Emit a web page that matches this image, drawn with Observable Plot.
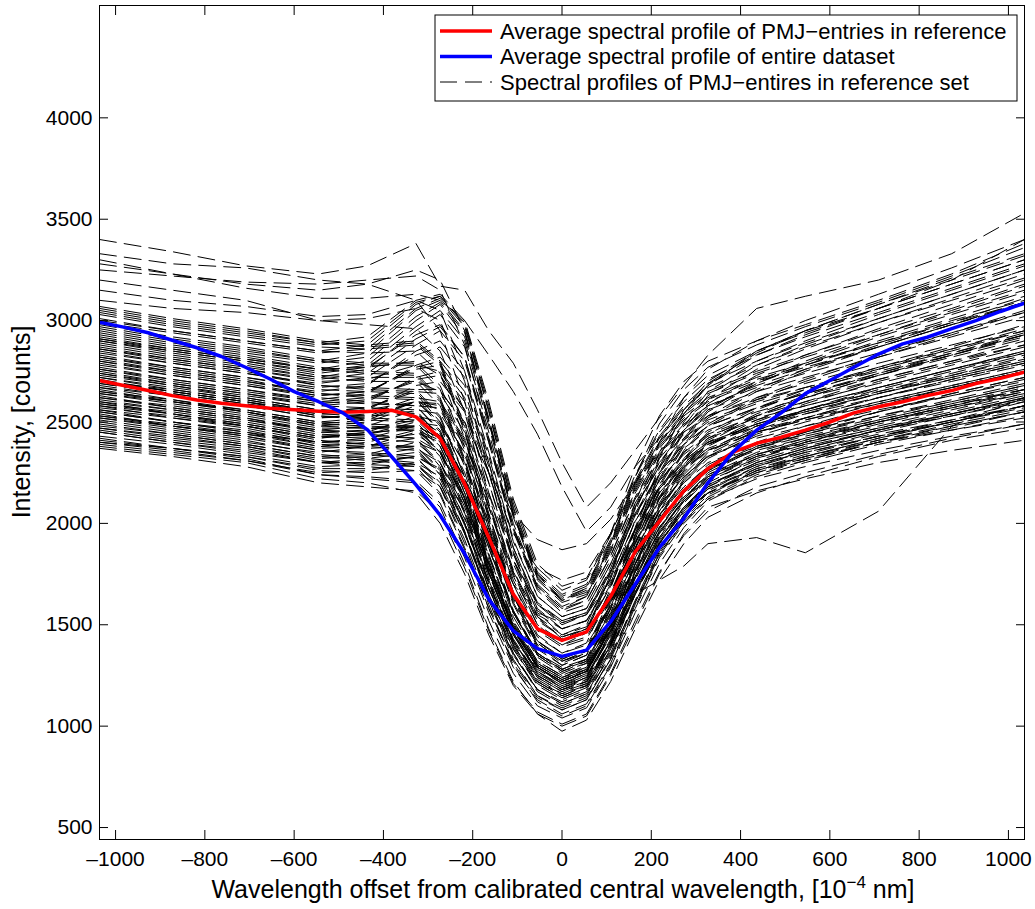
<!DOCTYPE html>
<html><head><meta charset="utf-8">
<script src="https://cdn.jsdelivr.net/npm/d3@7"></script>
<script src="https://cdn.jsdelivr.net/npm/@observablehq/plot@0.6"></script>
<style>body{margin:0;background:#fff;}</style>
</head><body><div id="chart"></div>
<script>
// wavelength grid of the averaged profiles [10^-4 nm]
const gridX = [-1036, -982, -927, -873, -818, -763, -709, -654, -600, -545, -491, -436, -382, -327, -273, -218, -164, -109, -55, 0, 55, 109, 164, 218, 273, 327, 382, 436, 491, 545, 600, 654, 709, 763, 818, 873, 927, 982, 1036];
const avgReference = [2705, 2680, 2655, 2630, 2608, 2592, 2580, 2568, 2560, 2553, 2548, 2552, 2558, 2525, 2420, 2195, 1930, 1650, 1480, 1423, 1465, 1640, 1860, 2010, 2160, 2270, 2350, 2395, 2425, 2460, 2500, 2545, 2575, 2600, 2630, 2655, 2690, 2715, 2746];
const avgDataset = [2992, 2968, 2940, 2903, 2866, 2823, 2770, 2712, 2650, 2600, 2545, 2462, 2330, 2190, 2040, 1850, 1625, 1470, 1382, 1344, 1375, 1515, 1700, 1880, 2025, 2200, 2350, 2460, 2545, 2640, 2705, 2770, 2835, 2885, 2918, 2960, 3000, 3045, 3086];

// wavelength grid of the individual reference-set profiles
const profileX = [-1036, -873, -709, -545, -436, -327, -273, -218, -164, -109, -55, 0, 55, 109, 164, 218, 273, 327, 436, 545, 709, 873, 1036];
const profiles = [
  [2380, 2340, 2300, 2220, 2200, 2150, 2000, 1750, 1450, 1200, 1060, 1000, 1050, 1250, 1500, 1750, 1950, 2080, 2160, 2220, 2300, 2360, 2410],
  [2420, 2370, 2330, 2260, 2250, 2260, 2180, 1950, 1650, 1380, 1200, 1130, 1180, 1380, 1650, 1880, 2050, 2150, 2250, 2310, 2400, 2470, 2550],
  [2450, 2400, 2350, 2300, 2320, 2350, 2250, 2000, 1700, 1420, 1250, 1180, 1220, 1420, 1700, 1920, 2080, 2190, 2290, 2360, 2440, 2510, 2600],
  [2470, 2420, 2380, 2310, 2290, 2280, 2150, 1880, 1580, 1320, 1150, 1090, 1140, 1330, 1600, 1850, 2020, 2140, 2260, 2330, 2420, 2500, 2570],
  [2500, 2450, 2400, 2350, 2380, 2450, 2400, 2150, 1800, 1480, 1290, 1220, 1270, 1480, 1760, 1980, 2130, 2230, 2330, 2390, 2470, 2540, 2620],
  [2520, 2470, 2420, 2360, 2350, 2330, 2200, 1950, 1620, 1350, 1180, 1120, 1170, 1380, 1660, 1900, 2060, 2180, 2300, 2370, 2460, 2530, 2600],
  [2540, 2480, 2440, 2400, 2420, 2480, 2420, 2200, 1880, 1560, 1350, 1280, 1320, 1530, 1800, 2020, 2170, 2270, 2360, 2420, 2500, 2570, 2650],
  [2560, 2500, 2450, 2380, 2370, 2380, 2270, 2000, 1680, 1400, 1220, 1160, 1200, 1400, 1680, 1930, 2100, 2220, 2330, 2400, 2490, 2570, 2640],
  [2580, 2520, 2480, 2420, 2440, 2500, 2480, 2300, 1980, 1650, 1420, 1330, 1380, 1580, 1850, 2060, 2200, 2300, 2390, 2450, 2530, 2600, 2680],
  [2600, 2540, 2490, 2430, 2420, 2400, 2300, 2050, 1720, 1420, 1240, 1170, 1210, 1420, 1700, 1950, 2120, 2240, 2350, 2420, 2510, 2590, 2660],
  [2610, 2560, 2510, 2460, 2480, 2560, 2540, 2350, 2000, 1660, 1440, 1360, 1400, 1600, 1880, 2090, 2230, 2330, 2420, 2480, 2560, 2630, 2700],
  [2630, 2570, 2520, 2450, 2440, 2420, 2280, 2000, 1650, 1360, 1170, 1100, 1150, 1360, 1650, 1900, 2080, 2200, 2320, 2400, 2500, 2580, 2660],
  [2650, 2600, 2560, 2500, 2520, 2600, 2580, 2400, 2080, 1720, 1480, 1400, 1440, 1650, 1930, 2130, 2270, 2360, 2450, 2510, 2600, 2680, 2760],
  [2670, 2610, 2560, 2500, 2490, 2480, 2350, 2080, 1730, 1430, 1250, 1180, 1230, 1450, 1750, 2000, 2170, 2290, 2400, 2480, 2580, 2670, 2750],
  [2690, 2640, 2590, 2540, 2560, 2680, 2700, 2550, 2200, 1800, 1540, 1450, 1490, 1700, 1980, 2180, 2310, 2400, 2490, 2550, 2640, 2720, 2800],
  [2710, 2650, 2600, 2530, 2510, 2500, 2380, 2100, 1750, 1450, 1270, 1200, 1240, 1460, 1760, 2020, 2200, 2320, 2440, 2520, 2620, 2710, 2790],
  [2730, 2680, 2630, 2580, 2600, 2720, 2750, 2600, 2250, 1850, 1580, 1480, 1520, 1730, 2010, 2210, 2340, 2430, 2520, 2580, 2670, 2760, 2850],
  [2750, 2690, 2640, 2580, 2570, 2560, 2420, 2120, 1760, 1460, 1280, 1210, 1260, 1480, 1780, 2040, 2220, 2350, 2470, 2560, 2670, 2760, 2850],
  [2770, 2710, 2660, 2610, 2640, 2780, 2820, 2680, 2300, 1880, 1600, 1500, 1550, 1760, 2040, 2240, 2370, 2460, 2550, 2620, 2710, 2800, 2880],
  [2790, 2730, 2680, 2620, 2600, 2580, 2450, 2150, 1780, 1470, 1290, 1220, 1270, 1500, 1800, 2070, 2260, 2390, 2510, 2600, 2710, 2800, 2900],
  [2810, 2750, 2700, 2650, 2680, 2850, 2900, 2750, 2350, 1920, 1640, 1540, 1580, 1800, 2080, 2280, 2410, 2500, 2590, 2660, 2750, 2840, 2930],
  [2830, 2770, 2720, 2660, 2650, 2640, 2500, 2200, 1820, 1500, 1310, 1240, 1290, 1520, 1830, 2100, 2290, 2420, 2540, 2630, 2740, 2840, 2940],
  [2850, 2790, 2740, 2690, 2720, 2880, 2950, 2800, 2400, 1960, 1670, 1560, 1600, 1820, 2100, 2300, 2440, 2530, 2620, 2690, 2790, 2880, 2970],
  [2860, 2800, 2750, 2680, 2660, 2650, 2520, 2230, 1850, 1520, 1320, 1250, 1300, 1540, 1850, 2130, 2320, 2450, 2570, 2660, 2770, 2870, 2980],
  [2880, 2820, 2770, 2720, 2760, 2950, 3030, 2870, 2450, 2000, 1700, 1590, 1640, 1860, 2150, 2350, 2490, 2580, 2670, 2740, 2840, 2940, 3040],
  [2900, 2840, 2790, 2730, 2720, 2720, 2600, 2300, 1900, 1560, 1350, 1270, 1320, 1560, 1880, 2160, 2360, 2490, 2620, 2710, 2830, 2940, 3050],
  [2920, 2860, 2810, 2760, 2800, 3000, 3080, 2920, 2500, 2040, 1730, 1620, 1660, 1880, 2170, 2380, 2520, 2610, 2710, 2780, 2890, 3000, 3100],
  [2940, 2880, 2830, 2770, 2750, 2740, 2620, 2320, 1920, 1570, 1360, 1280, 1330, 1580, 1900, 2190, 2390, 2530, 2660, 2760, 2880, 2990, 3110],
  [2960, 2900, 2850, 2800, 2840, 3050, 3100, 2950, 2520, 2050, 1740, 1630, 1680, 1900, 2190, 2400, 2550, 2650, 2750, 2830, 2950, 3060, 3180],
  [2980, 2920, 2870, 2810, 2790, 2790, 2680, 2380, 1970, 1610, 1390, 1300, 1350, 1600, 1930, 2220, 2420, 2560, 2700, 2800, 2930, 3050, 3170],
  [3000, 2950, 2900, 2850, 2880, 3080, 3120, 2980, 2560, 2080, 1760, 1650, 1700, 1920, 2210, 2430, 2580, 2690, 2800, 2890, 3010, 3130, 3250],
  [3030, 2970, 2920, 2870, 2860, 2880, 2780, 2450, 2020, 1640, 1410, 1320, 1370, 1620, 1950, 2250, 2460, 2610, 2760, 2860, 2990, 3110, 3230],
  [3050, 2990, 2940, 2890, 2920, 3100, 3130, 3000, 2600, 2120, 1800, 1690, 1730, 1950, 2240, 2460, 2620, 2730, 2850, 2940, 3060, 3180, 3300],
  [3070, 3010, 2960, 2900, 2880, 2900, 2800, 2480, 2050, 1660, 1420, 1330, 1380, 1640, 1980, 2280, 2500, 2650, 2800, 2900, 3030, 3150, 3270],
  [3150, 3100, 3070, 3020, 3030, 3100, 3050, 2750, 2300, 1850, 1560, 1450, 1500, 1760, 2080, 2350, 2560, 2700, 2850, 2950, 3080, 3200, 3320],
  [3200, 3150, 3100, 3000, 2980, 2960, 2850, 2550, 2100, 1700, 1450, 1360, 1410, 1680, 2020, 2320, 2540, 2690, 2840, 2950, 3080, 3210, 3330],
  [3280, 3230, 3180, 3150, 3180, 3250, 3200, 2950, 2500, 2050, 1750, 1620, 1680, 1950, 2280, 2530, 2700, 2800, 2900, 2980, 3100, 3230, 3380],
  [3330, 3280, 3260, 3200, 3180, 3100, 2950, 2600, 2150, 1750, 1500, 1400, 1460, 1750, 2100, 2400, 2620, 2760, 2900, 3000, 3130, 3260, 3400],
  [3400, 3340, 3270, 3230, 3270, 3380, 3170, 3150, 2950, 2790, 2560, 2300, 2080, 2200, 2360, 2520, 2680, 2830, 3060, 3120, 3200, 3330, 3530],
  [3300, 3230, 3160, 3110, 3110, 3130, 3100, 3000, 2830, 2650, 2440, 2180, 1960, 2080, 2280, 2420, 2560, 2680, 2850, 2950, 3060, 3200, 3400],
  [2700, 2650, 2600, 2550, 2560, 2600, 2500, 2250, 1900, 1560, 1350, 1270, 1310, 1500, 1650, 1720, 1790, 1900, 1930, 1855, 2060, 2480, 2620],
  [2400, 2360, 2310, 2240, 2220, 2200, 2080, 1800, 1480, 1220, 1060, 975, 1030, 1220, 1480, 1720, 1900, 2030, 2150, 2230, 2330, 2410, 2470],
  [2480, 2440, 2390, 2330, 2310, 2290, 2180, 1920, 1600, 1300, 1120, 1050, 1100, 1300, 1580, 1830, 2000, 2120, 2240, 2310, 2400, 2480, 2550],
  [2550, 2500, 2450, 2400, 2410, 2440, 2360, 2100, 1760, 1450, 1260, 1190, 1240, 1450, 1730, 1960, 2120, 2230, 2340, 2410, 2500, 2580, 2660],
  [2620, 2570, 2520, 2460, 2450, 2460, 2360, 2100, 1760, 1460, 1270, 1200, 1250, 1460, 1740, 1980, 2150, 2260, 2370, 2440, 2530, 2610, 2690],
  [2680, 2630, 2580, 2520, 2540, 2620, 2600, 2420, 2080, 1740, 1500, 1420, 1460, 1660, 1940, 2150, 2290, 2390, 2480, 2550, 2640, 2720, 2800],
  [2740, 2680, 2620, 2560, 2550, 2550, 2430, 2150, 1800, 1490, 1300, 1230, 1280, 1500, 1800, 2060, 2240, 2360, 2480, 2560, 2660, 2750, 2840],
  [2800, 2740, 2690, 2630, 2650, 2760, 2780, 2620, 2250, 1860, 1600, 1510, 1550, 1760, 2040, 2250, 2390, 2480, 2570, 2640, 2740, 2830, 2920],
  [2450, 2400, 2360, 2300, 2300, 2330, 2270, 2060, 1750, 1460, 1270, 1190, 1230, 1420, 1680, 1910, 2070, 2170, 2270, 2330, 2410, 2480, 2550],
  [2530, 2480, 2430, 2370, 2380, 2420, 2350, 2120, 1800, 1500, 1310, 1240, 1280, 1470, 1730, 1960, 2110, 2210, 2310, 2380, 2460, 2540, 2620],
  [2590, 2540, 2480, 2410, 2390, 2370, 2240, 1960, 1620, 1330, 1150, 1080, 1130, 1340, 1620, 1870, 2040, 2160, 2280, 2360, 2450, 2530, 2610],
  [2660, 2600, 2550, 2480, 2470, 2460, 2330, 2050, 1700, 1400, 1220, 1150, 1200, 1410, 1700, 1950, 2120, 2250, 2370, 2450, 2550, 2640, 2720],
  [2720, 2660, 2610, 2550, 2570, 2650, 2640, 2450, 2100, 1760, 1520, 1440, 1480, 1690, 1970, 2180, 2320, 2420, 2510, 2580, 2670, 2760, 2840],
  [2820, 2760, 2710, 2640, 2620, 2610, 2480, 2180, 1800, 1480, 1290, 1210, 1260, 1490, 1800, 2080, 2270, 2400, 2530, 2620, 2730, 2830, 2930],
  [2900, 2850, 2800, 2740, 2770, 2930, 2980, 2820, 2400, 1970, 1680, 1570, 1620, 1840, 2130, 2340, 2480, 2580, 2680, 2760, 2870, 2980, 3090],
  [2560, 2520, 2470, 2400, 2390, 2380, 2260, 1990, 1680, 1420, 1250, 1180, 1220, 1400, 1650, 1880, 2040, 2150, 2260, 2330, 2420, 2500, 2580],
  [2760, 2700, 2650, 2600, 2620, 2700, 2650, 2500, 2250, 2050, 1920, 1870, 1900, 2020, 2200, 2350, 2450, 2530, 2610, 2670, 2760, 2850, 2950],
  [2370, 2330, 2280, 2200, 2180, 2160, 2050, 1780, 1470, 1210, 1070, 1010, 1060, 1260, 1520, 1760, 1940, 2060, 2180, 2250, 2340, 2420, 2490],
  [2390, 2350, 2310, 2250, 2260, 2300, 2230, 2000, 1680, 1400, 1220, 1150, 1200, 1400, 1660, 1890, 2040, 2150, 2260, 2320, 2400, 2460, 2520],
  [2410, 2370, 2320, 2240, 2230, 2210, 2100, 1830, 1520, 1260, 1100, 1040, 1090, 1290, 1560, 1800, 1980, 2110, 2230, 2300, 2390, 2460, 2530],
  [2430, 2390, 2340, 2280, 2290, 2330, 2260, 2030, 1710, 1420, 1240, 1170, 1220, 1410, 1680, 1900, 2060, 2170, 2280, 2350, 2430, 2500, 2580],
  [2460, 2410, 2370, 2300, 2280, 2260, 2140, 1870, 1560, 1290, 1130, 1060, 1110, 1310, 1590, 1840, 2010, 2130, 2250, 2320, 2410, 2490, 2560],
  [2490, 2440, 2390, 2330, 2340, 2400, 2350, 2120, 1790, 1490, 1300, 1230, 1270, 1470, 1740, 1960, 2110, 2220, 2320, 2390, 2470, 2550, 2630],
  [2510, 2460, 2410, 2340, 2320, 2300, 2180, 1900, 1580, 1310, 1140, 1080, 1130, 1330, 1610, 1860, 2030, 2150, 2270, 2340, 2430, 2510, 2580],
  [2530, 2490, 2440, 2380, 2400, 2460, 2410, 2180, 1840, 1520, 1320, 1250, 1290, 1490, 1760, 1980, 2130, 2240, 2340, 2400, 2480, 2560, 2640],
  [2550, 2500, 2460, 2390, 2380, 2360, 2240, 1960, 1630, 1350, 1180, 1110, 1160, 1370, 1650, 1900, 2070, 2190, 2300, 2370, 2460, 2540, 2610],
  [2570, 2530, 2480, 2420, 2450, 2530, 2500, 2290, 1950, 1620, 1400, 1320, 1360, 1560, 1830, 2040, 2180, 2280, 2380, 2440, 2520, 2600, 2680],
  [2590, 2550, 2500, 2440, 2430, 2420, 2300, 2020, 1680, 1390, 1210, 1140, 1190, 1400, 1690, 1940, 2110, 2230, 2340, 2410, 2500, 2580, 2650],
  [2600, 2560, 2510, 2450, 2460, 2510, 2450, 2220, 1880, 1560, 1360, 1290, 1330, 1530, 1800, 2020, 2160, 2270, 2370, 2430, 2510, 2590, 2670],
  [2620, 2580, 2530, 2470, 2470, 2480, 2380, 2120, 1780, 1480, 1290, 1220, 1270, 1480, 1760, 2000, 2160, 2280, 2390, 2460, 2550, 2630, 2710],
  [2640, 2590, 2540, 2480, 2500, 2580, 2570, 2380, 2040, 1700, 1470, 1390, 1430, 1630, 1910, 2120, 2260, 2360, 2450, 2510, 2590, 2670, 2750],
  [2650, 2610, 2550, 2490, 2480, 2470, 2350, 2060, 1710, 1410, 1230, 1160, 1210, 1430, 1720, 1970, 2140, 2260, 2380, 2450, 2550, 2640, 2720],
  [2670, 2630, 2580, 2520, 2530, 2600, 2560, 2340, 1980, 1640, 1420, 1340, 1380, 1590, 1870, 2080, 2230, 2330, 2430, 2500, 2590, 2670, 2750],
  [2690, 2640, 2590, 2530, 2520, 2510, 2400, 2130, 1780, 1480, 1290, 1220, 1270, 1490, 1790, 2040, 2210, 2330, 2450, 2520, 2620, 2710, 2790],
  [2700, 2660, 2610, 2550, 2570, 2660, 2660, 2480, 2130, 1770, 1530, 1440, 1480, 1690, 1970, 2170, 2310, 2400, 2490, 2560, 2650, 2730, 2810],
  [2720, 2670, 2620, 2560, 2550, 2540, 2410, 2120, 1760, 1450, 1260, 1190, 1240, 1470, 1770, 2030, 2210, 2340, 2460, 2540, 2640, 2730, 2820],
  [2740, 2690, 2640, 2590, 2610, 2710, 2730, 2560, 2200, 1820, 1570, 1480, 1520, 1730, 2010, 2210, 2350, 2440, 2530, 2600, 2690, 2780, 2870],
  [2760, 2710, 2660, 2600, 2590, 2580, 2460, 2170, 1800, 1480, 1290, 1220, 1270, 1500, 1800, 2060, 2250, 2380, 2500, 2590, 2700, 2790, 2880],
  [2780, 2730, 2680, 2630, 2650, 2770, 2800, 2650, 2280, 1880, 1610, 1520, 1560, 1770, 2050, 2250, 2390, 2480, 2570, 2640, 2730, 2820, 2910],
  [2800, 2750, 2700, 2640, 2630, 2620, 2490, 2190, 1810, 1490, 1300, 1230, 1280, 1510, 1820, 2090, 2280, 2410, 2530, 2620, 2730, 2830, 2930],
  [2820, 2770, 2720, 2670, 2690, 2830, 2870, 2720, 2330, 1910, 1640, 1540, 1580, 1800, 2080, 2280, 2420, 2510, 2600, 2670, 2770, 2860, 2950],
  [2840, 2790, 2740, 2680, 2670, 2660, 2530, 2230, 1840, 1510, 1310, 1240, 1290, 1530, 1840, 2120, 2310, 2440, 2560, 2650, 2760, 2860, 2960],
  [2870, 2810, 2760, 2710, 2740, 2910, 2970, 2820, 2420, 1980, 1690, 1580, 1620, 1840, 2120, 2320, 2460, 2560, 2650, 2720, 2820, 2920, 3020],
  [2890, 2830, 2780, 2720, 2700, 2700, 2580, 2280, 1880, 1540, 1340, 1260, 1310, 1550, 1870, 2150, 2350, 2480, 2610, 2700, 2820, 2930, 3040],
  [2910, 2850, 2800, 2750, 2780, 2970, 3050, 2900, 2480, 2030, 1720, 1610, 1650, 1870, 2160, 2370, 2510, 2600, 2700, 2770, 2870, 2980, 3080],
  [2930, 2870, 2820, 2760, 2740, 2730, 2610, 2310, 1910, 1570, 1360, 1280, 1330, 1580, 1900, 2180, 2380, 2520, 2650, 2750, 2870, 2980, 3090],
  [2950, 2890, 2840, 2790, 2820, 3020, 3090, 2940, 2510, 2040, 1730, 1620, 1670, 1890, 2180, 2390, 2540, 2640, 2740, 2820, 2930, 3040, 3150],
  [2970, 2910, 2860, 2800, 2780, 2780, 2660, 2360, 1950, 1600, 1380, 1300, 1350, 1600, 1920, 2210, 2410, 2550, 2690, 2790, 2920, 3030, 3140],
  [2990, 2940, 2890, 2840, 2860, 3060, 3110, 2970, 2550, 2070, 1750, 1640, 1690, 1910, 2200, 2420, 2570, 2670, 2780, 2870, 2990, 3100, 3210],
  [3010, 2950, 2900, 2850, 2840, 2850, 2740, 2420, 2000, 1630, 1400, 1310, 1360, 1610, 1940, 2240, 2450, 2590, 2730, 2830, 2960, 3080, 3200],
  [3040, 2980, 2930, 2880, 2900, 3090, 3120, 2990, 2580, 2100, 1780, 1670, 1720, 1940, 2230, 2450, 2600, 2710, 2830, 2920, 3040, 3160, 3280],
  [3060, 3000, 2950, 2890, 2870, 2890, 2790, 2460, 2030, 1650, 1410, 1320, 1370, 1630, 1970, 2270, 2480, 2630, 2780, 2880, 3010, 3130, 3250],
  [3100, 3060, 3040, 3000, 3010, 3060, 3000, 2700, 2250, 1820, 1540, 1430, 1480, 1740, 2060, 2330, 2540, 2680, 2830, 2930, 3060, 3180, 3300],
  [3250, 3220, 3190, 3180, 3200, 3220, 3150, 2880, 2420, 1980, 1690, 1580, 1640, 1900, 2230, 2490, 2660, 2770, 2880, 2970, 3090, 3220, 3360],
  [2400, 2370, 2330, 2270, 2270, 2290, 2200, 1950, 1640, 1360, 1180, 1110, 1160, 1350, 1610, 1850, 2010, 2120, 2220, 2280, 2360, 2430, 2490],
  [2520, 2480, 2430, 2360, 2340, 2320, 2220, 1960, 1650, 1380, 1210, 1140, 1190, 1390, 1670, 1920, 2080, 2190, 2300, 2370, 2460, 2540, 2620],
  [2640, 2600, 2550, 2490, 2510, 2600, 2590, 2410, 2080, 1760, 1550, 1480, 1520, 1710, 1970, 2170, 2300, 2390, 2480, 2540, 2620, 2700, 2780],
  [2700, 2650, 2600, 2540, 2530, 2540, 2440, 2200, 1900, 1640, 1480, 1420, 1460, 1640, 1900, 2120, 2280, 2390, 2490, 2560, 2650, 2740, 2830],
  [2860, 2810, 2760, 2700, 2710, 2780, 2750, 2560, 2250, 1950, 1780, 1720, 1760, 1950, 2200, 2400, 2530, 2620, 2720, 2790, 2890, 2990, 3090],
  [2580, 2540, 2490, 2430, 2440, 2480, 2420, 2230, 1950, 1700, 1560, 1510, 1550, 1720, 1960, 2150, 2280, 2370, 2460, 2520, 2600, 2680, 2760],
  [2470, 2430, 2380, 2320, 2330, 2370, 2300, 2080, 1770, 1480, 1290, 1210, 1250, 1440, 1700, 1930, 2080, 2180, 2290, 2350, 2430, 2500, 2580],
  [2910, 2860, 2810, 2760, 2770, 2800, 2730, 2500, 2150, 1820, 1600, 1520, 1560, 1780, 2070, 2300, 2460, 2570, 2690, 2780, 2900, 3010, 3120]
];

const xTicks = [-1000, -800, -600, -400, -200, 0, 200, 400, 600, 800, 1000];
const yTicks = [500, 1000, 1500, 2000, 2500, 3000, 3500, 4000];
const legendLabels = [
  "Average spectral profile of PMJ\u2212entries in reference",
  "Average spectral profile of entire dataset",
  "Spectral profiles of PMJ\u2212entires in reference set"
];
const xLabelMain = "Wavelength offset from calibrated central wavelength, [10";
const xLabelSup = "\u22124";
const xLabelTail = " nm]";
const yLabel = "Intensity, [counts]";

const dashedRows = profiles.flatMap((p, i) => p.map((v, j) => ({id: i, x: profileX[j], y: v})));
const refRows = gridX.map((x, i) => ({x, y: avgReference[i]}));
const allRows = gridX.map((x, i) => ({x, y: avgDataset[i]}));

const FONT = "'Liberation Sans', Arial, Helvetica, sans-serif";
const fmt = d => d < 0 ? "\u2013" + Math.abs(d) : String(d);

const chart = Plot.plot({
  width: 1035, height: 909,
  marginLeft: 99, marginRight: 11, marginTop: 5, marginBottom: 70,
  style: {fontFamily: FONT, fontSize: "21px", background: "white", color: "black", overflow: "visible"},
  x: {domain: [-1036, 1036]},
  y: {domain: [441, 4554]},
  marks: [
    Plot.line(dashedRows, {x: "x", y: "y", z: "id", stroke: "black", strokeWidth: 1, strokeDasharray: "17,8", clip: true}),
    Plot.line(refRows, {x: "x", y: "y", stroke: "#ff0000", strokeWidth: 3.5, clip: true}),
    Plot.line(allRows, {x: "x", y: "y", stroke: "#0000ff", strokeWidth: 3.5, clip: true}),
    Plot.axisX({ticks: xTicks, tickSize: -9, tickPadding: 21, tickFormat: fmt, label: null}),
    Plot.axisX({anchor: "top", ticks: xTicks, tickSize: -9, tickFormat: () => "", label: null}),
    Plot.axisY({ticks: yTicks, tickSize: -9, tickPadding: 16, tickFormat: fmt, label: null}),
    Plot.axisY({anchor: "right", ticks: yTicks, tickSize: -9, tickFormat: () => "", label: null}),
    Plot.frame({stroke: "black", strokeWidth: 1})
  ]
});

const svg = d3.select(chart);
// x axis label
const xl = svg.append("text")
  .attr("x", 563).attr("y", 898).attr("text-anchor", "middle")
  .style("font-family", FONT).style("font-size", "25px").attr("fill", "black");
xl.append("tspan").text(xLabelMain);
xl.append("tspan").attr("dy", -10).style("font-size", "17px").text(xLabelSup);
xl.append("tspan").attr("dy", 10).text(xLabelTail);
// y axis label
svg.append("text")
  .attr("transform", "translate(30,422) rotate(-90)").attr("text-anchor", "middle")
  .style("font-family", FONT).style("font-size", "25px").attr("fill", "black")
  .text(yLabel);
// legend
const lg = svg.append("g").attr("text-anchor", "start");
lg.append("rect").attr("x", 435).attr("y", 15).attr("width", 582).attr("height", 86)
  .attr("fill", "white").attr("stroke", "black").attr("stroke-width", 1);
const legendStyles = [
  {stroke: "#ff0000", width: 3.5, dash: null},
  {stroke: "#0000ff", width: 3.5, dash: null},
  {stroke: "black", width: 1, dash: "17,8"}
];
legendLabels.forEach((t, i) => {
  const cy = 31 + i * 25.5;
  const s = legendStyles[i];
  lg.append("line").attr("x1", 440).attr("x2", 492).attr("y1", cy).attr("y2", cy)
    .attr("stroke", s.stroke).attr("stroke-width", s.width).attr("stroke-dasharray", s.dash);
  lg.append("text").attr("x", 500).attr("y", cy).attr("dy", "0.35em").attr("text-anchor", "start")
    .style("font-family", FONT).style("font-size", "22px").attr("fill", "black").text(t);
});

document.getElementById("chart").appendChild(chart);
</script>
</body></html>
